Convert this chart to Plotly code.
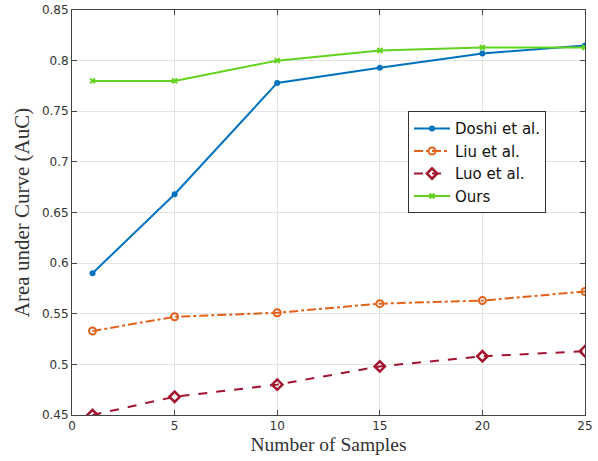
import plotly.graph_objects as go

x_samples = [1, 5, 10, 15, 20, 25]
doshi = [0.590, 0.668, 0.778, 0.793, 0.807, 0.815]
liu = [0.533, 0.547, 0.551, 0.560, 0.563, 0.572]
luo = [0.450, 0.468, 0.480, 0.498, 0.508, 0.513]
ours = [0.780, 0.780, 0.800, 0.810, 0.813, 0.813]

x_ticks = [0, 5, 10, 15, 20, 25]
y_ticks = [0.45, 0.5, 0.55, 0.6, 0.65, 0.7, 0.75, 0.8, 0.85]
y_tick_labels = ["0.45", "0.5", "0.55", "0.6", "0.65", "0.7", "0.75", "0.8", "0.85"]

fig = go.Figure()
fig.add_trace(go.Scatter(x=x_samples, y=doshi, name="Doshi et al.", mode="lines+markers",
                         line=dict(color="#0072BD", width=2),
                         marker=dict(symbol="circle", size=6, color="#0072BD")))
fig.add_trace(go.Scatter(x=x_samples, y=liu, name="Liu et al.", mode="lines+markers",
                         line=dict(color="#E2621C", width=2, dash="dashdot"),
                         marker=dict(symbol="circle-open", size=7, color="#E2621C", line=dict(width=2))))
fig.add_trace(go.Scatter(x=x_samples, y=luo, name="Luo et al.", mode="lines+markers",
                         line=dict(color="#A2142F", width=2, dash="dash"),
                         marker=dict(symbol="diamond-open", size=8, color="#A2142F", line=dict(width=2.5))))
fig.add_trace(go.Scatter(x=x_samples, y=ours, name="Ours", mode="lines+markers",
                         line=dict(color="#62D21E", width=2),
                         marker=dict(symbol="x-thin-open", size=5, color="#62D21E", line=dict(width=2, color="#62D21E"))))

axis_common = dict(showline=True, linecolor="#444444", linewidth=1, mirror="ticks",
                   ticks="inside", ticklen=5, tickcolor="#444444",
                   showgrid=True, gridcolor="#E3E3E3", gridwidth=1, zeroline=False,
                   automargin=False,
                   tickfont=dict(family="DejaVu Sans", size=12, color="#333333"))

fig.update_xaxes(range=[0, 25], tickvals=x_ticks,
                 title=dict(text="Number of Samples", font=dict(family="Liberation Serif", size=19.5, color="#333333"), standoff=4),
                 **axis_common)
fig.update_yaxes(range=[0.45, 0.85], tickvals=y_ticks, ticktext=y_tick_labels,
                 title=dict(text="Area under Curve (AuC)", font=dict(family="Liberation Serif", size=21, color="#333333"), standoff=6),
                 **axis_common)

fig.update_layout(
    width=598, height=461,
    margin=dict(l=72, r=13, t=10, b=46, autoexpand=False),
    paper_bgcolor="white", plot_bgcolor="white",
    showlegend=True,
    legend=dict(x=0.655, y=0.75, xanchor="left", yanchor="top",
                bgcolor="white", bordercolor="#333333", borderwidth=1,
                font=dict(family="DejaVu Sans", size=15, color="#111111"),
                itemwidth=36, tracegroupgap=0),
)

fig.write_html("out.html", config={"displayModeBar": False},
               post_script="document.body.style.margin='0';document.body.style.padding='0';")
